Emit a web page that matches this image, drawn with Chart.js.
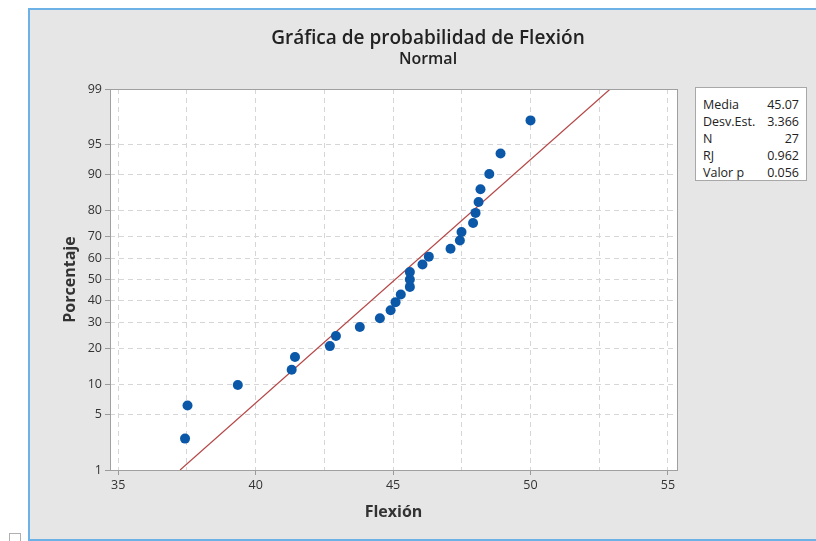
<!DOCTYPE html>
<html>
<head>
<meta charset="utf-8">
<script src="https://cdn.jsdelivr.net/npm/chart.js"></script>
<style>
    html, body { margin: 0; padding: 0; background: #fff; }
    #wrap { position: relative; width: 816px; height: 541px; overflow: hidden; font-family: "Open Sans", sans-serif; }
    #panel { position: absolute; left: 28px; top: 8px; width: 800px; height: 529px; background: #e6e6e6; border: 2px solid #6cb2e6; border-right: none; }
    #probChart { position: absolute; left: 0; top: 0; }
    .titulo { position: absolute; left: 40px; width: 776px; text-align: center; color: #222; font-weight: 600; }
    #t1 { top: 26px; font-size: 19px; line-height: 23px; }
    #t2 { top: 49px; font-size: 16px; line-height: 19px; }
    #stats { position: absolute; left: 695px; top: 87px; width: 112px; height: 94px; box-sizing: border-box; border: 1px solid #a8a8a8; background: #fff; padding: 8px 7px 0 7px; font-size: 12.5px; color: #222; }
    #stats div { display: flex; justify-content: space-between; line-height: 17px; }
    #check { position: absolute; left: 9px; top: 533px; width: 10px; height: 10px; border: 1px solid #b0b0b0; background: #fff; }
</style>
</head>
<body>
<div id="wrap">
    <div id="panel"></div>
    <div id="check"></div>
    <canvas id="probChart" width="816" height="541"></canvas>
    <div class="titulo" id="t1">Gráfica de probabilidad de Flexión</div>
    <div class="titulo" id="t2">Normal</div>
    <div id="stats"></div>
</div>
<script>
// =============================================
// DATOS
// =============================================
const flexion = [37.43, 37.52, 39.35, 41.31, 41.43, 42.70, 42.92, 43.79, 44.52, 44.91, 45.09, 45.28, 45.61, 45.61,
    45.61, 46.07, 46.30, 47.09, 47.43, 47.49, 47.91, 48.00, 48.11, 48.18, 48.50, 48.91, 50.00];
const porcentaje = [2.6, 6.2, 9.9, 13.5, 17.2, 20.8, 24.5, 28.1, 31.8, 35.4, 39.1, 42.7, 46.4, 50.0,
    53.6, 57.3, 61.0, 64.6, 68.3, 71.9, 75.5, 79.2, 82.8, 86.5, 90.1, 93.8, 97.4];
const ajusteX = [37.25, 52.9];   // recta de ajuste normal
const ajusteY = [1, 99];
const yTicks = [1, 5, 10, 20, 30, 40, 50, 60, 70, 80, 90, 95, 99];
const xTicks = [35, 37.5, 40, 42.5, 45, 47.5, 50, 52.5, 55];
const statLabels = ['Media', 'Desv.Est.', 'N', 'RJ', 'Valor p'];
const statValues = ['45.07', '3.366', '27', '0.962', '0.056'];

// tabla de estadísticas
const statsEl = document.getElementById('stats');
statLabels.forEach((lbl, i) => {
    const row = document.createElement('div');
    row.innerHTML = '<span>' + lbl + '</span><span>' + statValues[i] + '</span>';
    statsEl.appendChild(row);
});

// =============================================
// ESCALA DE PROBABILIDAD NORMAL
// =============================================
function probit(p) {
    const a = [-3.969683028665376e+01, 2.209460984245205e+02, -2.759285104469687e+02, 1.383577518672690e+02, -3.066479806614716e+01, 2.506628277459239e+00];
    const b = [-5.447609879822406e+01, 1.615858368580409e+02, -1.556989798598866e+02, 6.680131188771972e+01, -1.328068155288572e+01];
    const c = [-7.784894002430293e-03, -3.223964580411365e-01, -2.400758277161838e+00, -2.549732539343734e+00, 4.374664141464968e+00, 2.938163982698783e+00];
    const d = [7.784695709041462e-03, 3.224671290700398e-01, 2.445134137142996e+00, 3.754408661907416e+00];
    const pl = 0.02425;
    let q, r;
    if (p < pl) {
        q = Math.sqrt(-2 * Math.log(p));
        return (((((c[0] * q + c[1]) * q + c[2]) * q + c[3]) * q + c[4]) * q + c[5]) / ((((d[0] * q + d[1]) * q + d[2]) * q + d[3]) * q + 1);
    }
    if (p <= 1 - pl) {
        q = p - 0.5; r = q * q;
        return (((((a[0] * r + a[1]) * r + a[2]) * r + a[3]) * r + a[4]) * r + a[5]) * q / (((((b[0] * r + b[1]) * r + b[2]) * r + b[3]) * r + b[4]) * r + 1);
    }
    q = Math.sqrt(-2 * Math.log(1 - p));
    return -(((((c[0] * q + c[1]) * q + c[2]) * q + c[3]) * q + c[4]) * q + c[5]) / ((((d[0] * q + d[1]) * q + d[2]) * q + d[3]) * q + 1);
}

function normCdf(z) {
    const t = 1 / (1 + 0.2316419 * Math.abs(z));
    const y = 0.3989423 * Math.exp(-z * z / 2) * t * (0.3193815 + t * (-0.3565638 + t * (1.781478 + t * (-1.821256 + t * 1.330274))));
    return z > 0 ? 1 - y : y;
}

class ProbabilityScale extends Chart.LinearScale {
    determineDataLimits() {
        this.min = probit(this.options.min / 100);
        this.max = probit(this.options.max / 100);
    }
    buildTicks() {
        return yTicks.map(v => ({ value: v }));
    }
    getPixelForValue(value) {
        return super.getPixelForValue(probit(value / 100));
    }
    getValueForPixel(pixel) {
        return normCdf(super.getValueForPixel(pixel)) * 100;
    }
}
ProbabilityScale.id = 'probability';
ProbabilityScale.defaults = Chart.LinearScale.defaults;
Chart.register(ProbabilityScale);

// fondo blanco y marco del área de trazado
const plotFrame = {
    id: 'plotFrame',
    beforeDraw(chart) {
        const { ctx, chartArea: a } = chart;
        ctx.save();
        ctx.fillStyle = '#fff';
        ctx.fillRect(a.left, a.top, a.right - a.left, a.bottom - a.top);
        ctx.restore();
    },
    afterDraw(chart) {
        const { ctx, chartArea: a } = chart;
        ctx.save();
        ctx.strokeStyle = '#a0a0a0';
        ctx.lineWidth = 1;
        ctx.strokeRect(Math.round(a.left) + 0.5, Math.round(a.top) + 0.5, Math.round(a.right - a.left), Math.round(a.bottom - a.top));
        ctx.restore();
    }
};

Chart.defaults.font.family = '"Open Sans", sans-serif';

const gridColor = '#d6d6d6';
const tickMarkColor = '#9a9a9a';

new Chart(document.getElementById('probChart'), {
    type: 'scatter',
    data: {
        datasets: [
            {
                label: 'Flexión',
                data: flexion.map((x, i) => ({ x, y: porcentaje[i] })),
                backgroundColor: '#0b57a8',
                borderWidth: 0,
                pointRadius: 5,
                order: 0
            },
            {
                type: 'line',
                label: 'Ajuste',
                data: ajusteX.map((x, i) => ({ x, y: ajusteY[i] })),
                borderColor: '#b54646',
                borderWidth: 1.2,
                pointRadius: 0,
                fill: false,
                order: 1
            }
        ]
    },
    options: {
        responsive: false,
        animation: false,
        layout: { padding: { left: 0, right: 139, top: 89, bottom: 0 } },
        plugins: {
            legend: { display: false },
            tooltip: { enabled: false }
        },
        scales: {
            x: {
                type: 'linear',
                min: 34.7,
                max: 55.33,
                afterBuildTicks: s => { s.ticks = xTicks.map(v => ({ value: v })); },
                afterFit: s => { s.height = 71; },
                grid: {
                    color: gridColor,
                    tickColor: c => (c.tick && c.tick.value % 5 === 0) ? tickMarkColor : 'rgba(0,0,0,0)',
                    tickLength: 5,
                    tickBorderDash: []
                },
                border: { display: false, dash: [5, 4] },
                ticks: {
                    color: '#333',
                    font: { size: 12.5 },
                    padding: 3,
                    autoSkip: false,
                    maxRotation: 0,
                    callback: v => v % 5 === 0 ? v : ''
                },
                title: {
                    display: true,
                    text: 'Flexión',
                    color: '#333',
                    font: { size: 16, weight: 'bold' },
                    padding: { top: 0, bottom: 19 }
                }
            },
            y: {
                type: 'probability',
                min: 1,
                max: 99,
                afterFit: s => { s.width = 110; },
                grid: {
                    color: gridColor,
                    tickColor: tickMarkColor,
                    tickLength: 5,
                    tickBorderDash: []
                },
                border: { display: false, dash: [5, 4] },
                ticks: {
                    color: '#333',
                    font: { size: 12.5 },
                    padding: 3,
                    autoSkip: false,
                    callback: v => v
                },
                title: {
                    display: true,
                    text: 'Porcentaje',
                    color: '#333',
                    font: { size: 16, weight: 'bold' },
                    padding: { top: 61, bottom: 0 }
                }
            }
        }
    },
    plugins: [plotFrame]
});
</script>
</body>
</html>
